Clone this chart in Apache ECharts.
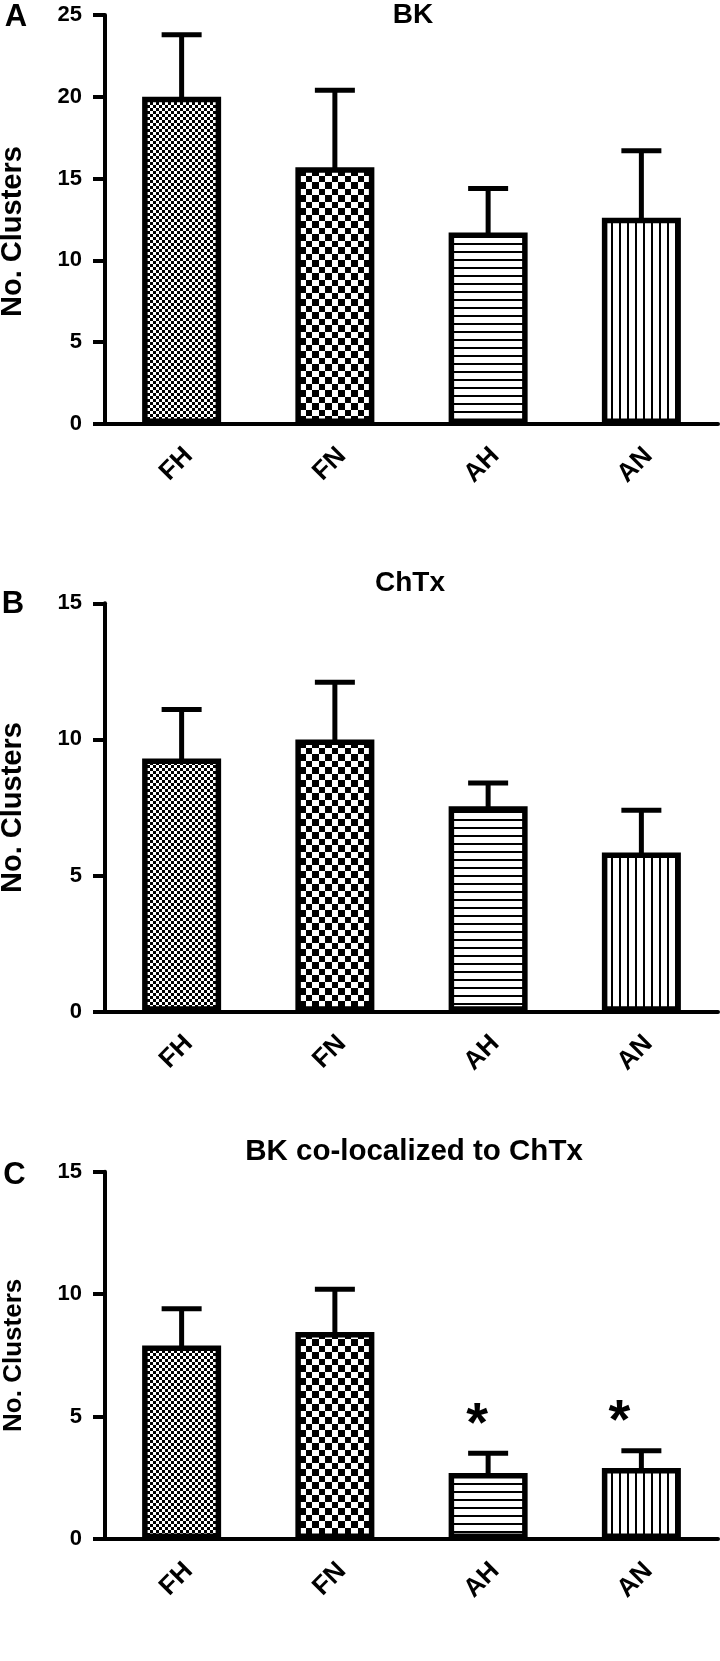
<!DOCTYPE html>
<html><head><meta charset="utf-8">
<script src="https://cdn.jsdelivr.net/npm/echarts@6/dist/echarts.min.js"></script>
<style>html,body{margin:0;padding:0;background:#fff}#c{width:720px;height:1661px}</style>
</head><body><div id="c"></div>
<script>
// ---- data ----
const categories = ['FH', 'FN', 'AH', 'AN'];
const bkMean   = [20.0, 15.7, 11.7, 12.6];
const bkErr    = [23.8, 20.4, 14.4, 16.7];
const chtxMean = [9.3, 10.0, 7.55, 5.85];
const chtxErr  = [11.1, 12.1, 8.4, 7.4];
const coMean   = [7.9, 8.45, 2.7, 2.9];
const coErr    = [9.4, 10.2, 3.5, 3.6];
const coSig    = ['', '', '*', '*'];
const titles   = ['BK', 'ChTx', 'BK co-localized to ChTx'];
const letters  = ['A', 'B', 'C'];
const yMaxes   = [25, 15, 15];
const yTickStep = 5;
const yName = 'No. Clusters';

// ---- styles ----
const FONT = "'Liberation Sans', Arial, Helvetica, sans-serif";
const grids = [
  {left: 105, width: 613, top: 15, height: 409, outerBoundsMode: 'none', containLabel: false},
  {left: 105, width: 613, top: 603.3, height: 408.4, outerBoundsMode: 'none', containLabel: false},
  {left: 105, width: 613, top: 1171.7, height: 367.3, outerBoundsMode: 'none', containLabel: false}
];
const nameSizes = [29, 29, 26];
const namePads = [[0, 24, 0, 0], [0, 0, 0, 0], [0, 0, 0, 0]];
const starDx = [0, 0, -11, -22];
const titleSizes = [28, 28, 29.5];

function tile(w, h, draw) {
  const c = document.createElement('canvas');
  c.width = w; c.height = h;
  const g = c.getContext('2d');
  g.fillStyle = '#fff'; g.fillRect(0, 0, w, h);
  g.fillStyle = '#000'; draw(g);
  return c;
}
const patterns = [
  tile(6, 6, g => { g.fillRect(0, 0, 3, 3); g.fillRect(3, 3, 3, 3); }),
  tile(13, 13, g => { g.fillRect(0, 0, 7, 7); g.fillRect(7, 7, 6, 6); }),
  tile(8, 8, g => { g.fillRect(0, 3, 8, 2); }),
  tile(8, 8, g => { g.fillRect(3, 0, 2, 8); })
];

const means = [bkMean, chtxMean, coMean];
const errs = [bkErr, chtxErr, coErr];

const chart = echarts.init(document.getElementById('c'), null, {renderer: 'canvas'});

const xAxis = [], yAxis = [], series = [], graphic = [];
for (let p = 0; p < 3; p++) {
  xAxis.push({
    type: 'category', gridIndex: p, data: categories,
    axisLine: {lineStyle: {color: '#000', width: 4}},
    axisTick: {alignWithLabel: true, length: 11, lineStyle: {color: '#000', width: 4}},
    axisLabel: {interval: 0, rotate: 45, margin: 35, padding: [0, -10, 0, 0],
                fontSize: 26, fontWeight: 'bold', color: '#000', fontFamily: FONT}
  });
  yAxis.push({
    type: 'value', gridIndex: p, min: 0, max: yMaxes[p], interval: yTickStep,
    axisLine: {show: true, lineStyle: {color: '#000', width: 4}},
    axisTick: {show: true, length: 12, lineStyle: {color: '#000', width: 4}},
    splitLine: {show: false},
    axisLabel: {margin: 23, fontSize: 22, fontWeight: 'bold', color: '#000', fontFamily: FONT},
    name: yName, nameLocation: 'middle', nameGap: 78,
    nameTextStyle: {fontSize: nameSizes[p], fontWeight: 'bold', color: '#000', fontFamily: FONT, padding: namePads[p]}
  });
  series.push({
    type: 'bar', xAxisIndex: p, yAxisIndex: p, barWidth: 79, z: 2,
    itemStyle: {borderColor: '#000', borderWidth: 5.5},
    data: means[p].map((v, i) => ({value: v, itemStyle: {color: {image: patterns[i], repeat: 'repeat'}}}))
  });
  const sig = p === 2 ? coSig : null;
  series.push({
    type: 'custom', xAxisIndex: p, yAxisIndex: p, z: 3,
    encode: {x: 0, y: [1, 2]},
    data: means[p].map((v, i) => [i, v, errs[p][i]]),
    renderItem: function (params, api) {
      const i = api.value(0);
      const lo = api.coord([i, api.value(1)]);
      const hi = api.coord([i, api.value(2)]);
      const st = {stroke: '#000', lineWidth: 5, lineCap: 'butt'};
      const children = [
        {type: 'line', shape: {x1: lo[0], y1: lo[1] + 3, x2: hi[0], y2: hi[1]}, style: st},
        {type: 'line', shape: {x1: hi[0] - 20, y1: hi[1], x2: hi[0] + 20, y2: hi[1]}, style: st}
      ];
      if (sig && sig[i]) {
        children.push({
          type: 'text', x: hi[0] + starDx[i], y: hi[1] - 28,
          style: {text: sig[i], fill: '#000', font: 'bold 56px ' + FONT,
                  align: 'center', verticalAlign: 'middle', textAlign: 'center', textVerticalAlign: 'middle'}
        });
      }
      return {type: 'group', children: children};
    }
  });
}

const titlePos = [[413, 15], [410, 583.5], [414, 1152]];
const letterPos = [[16, 17.5], [13, 604.5], [14.5, 1175]];
for (let p = 0; p < 3; p++) {
  graphic.push({type: 'text', x: titlePos[p][0], y: titlePos[p][1],
    style: {text: titles[p], fill: '#000', font: 'bold ' + titleSizes[p] + 'px ' + FONT,
            align: 'center', verticalAlign: 'middle', textAlign: 'center', textVerticalAlign: 'middle'}});
  graphic.push({type: 'text', x: letterPos[p][0], y: letterPos[p][1],
    style: {text: letters[p], fill: '#000', font: 'bold 31px ' + FONT,
            align: 'center', verticalAlign: 'middle', textAlign: 'center', textVerticalAlign: 'middle'}});
}

chart.setOption({
  animation: false,
  backgroundColor: '#fff',
  grid: grids,
  xAxis: xAxis,
  yAxis: yAxis,
  series: series,
  graphic: graphic
});
</script>
</body></html>
